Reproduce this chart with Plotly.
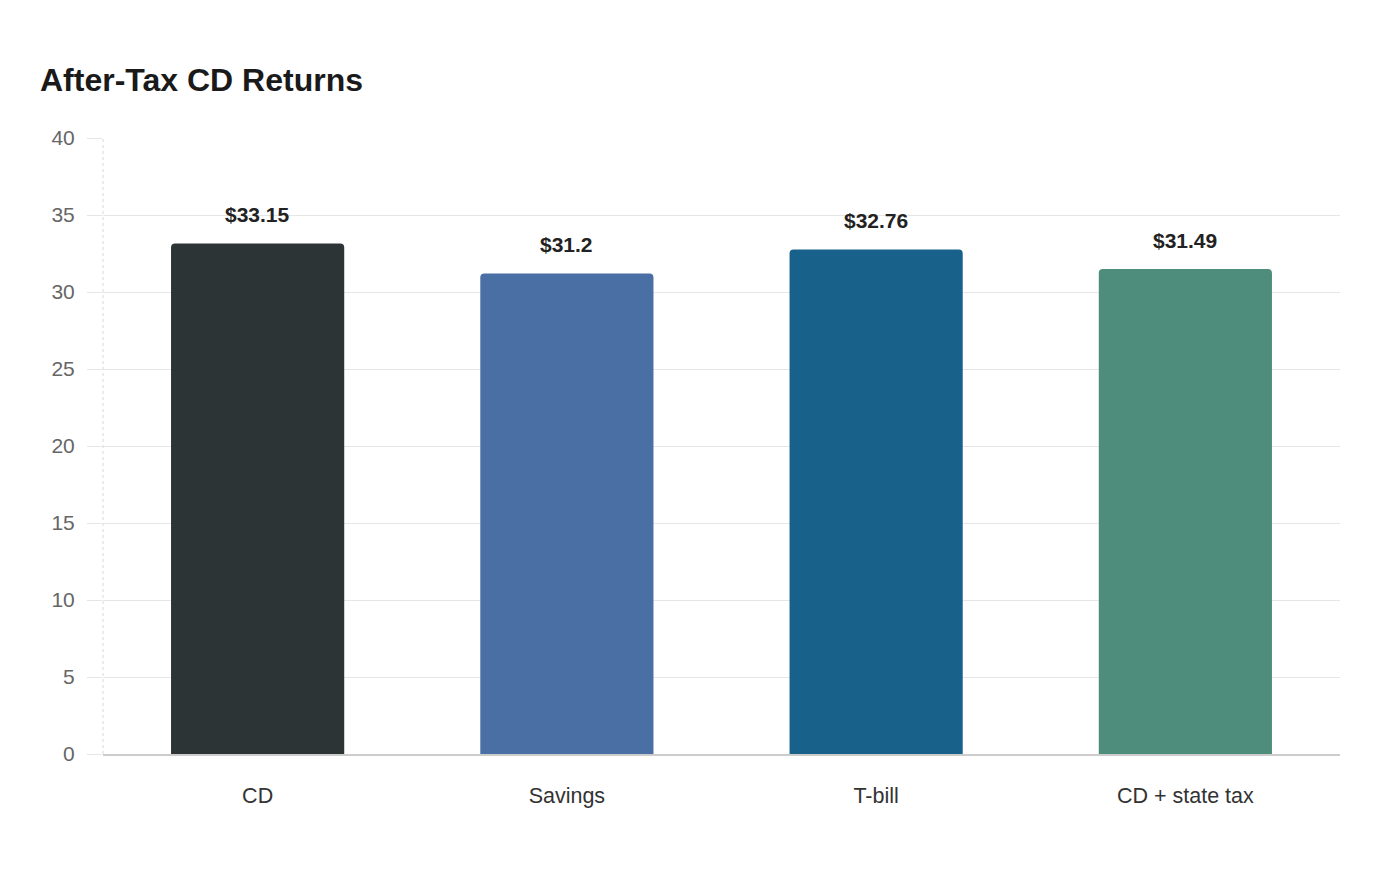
import plotly.graph_objects as go

categories = ["CD", "Savings", "T-bill", "CD + state tax"]
values = [33.15, 31.2, 32.76, 31.49]
labels = ["$33.15", "$31.2", "$32.76", "$31.49"]
colors = ["#2d3436", "#4a6fa5", "#18618a", "#4e8d7c"]
y_ticks = [0, 5, 10, 15, 20, 25, 30, 35, 40]

fig = go.Figure()
fig.add_trace(go.Bar(
    x=categories, y=values, marker=dict(color=colors, line=dict(width=0)),
    width=0.56, hoverinfo="skip",
))

for c, v, t in zip(categories, values, labels):
    fig.add_annotation(x=c, y=v, text="<b>%s</b>" % t, showarrow=False,
                       yshift=29, font=dict(size=21, color="#222222", family="Liberation Sans, Arial, sans-serif"))

fig.add_shape(type="line", xref="paper", yref="paper", x0=0, x1=0, y0=0, y1=1,
              line=dict(color="#d8d8d8", width=1, dash="dot"), layer="above")

fig.update_layout(
    width=1400, height=880,
    margin=dict(l=103, r=60, t=138, b=126),
    paper_bgcolor="white", plot_bgcolor="white",
    barcornerradius=4,
    showlegend=False,
    font=dict(family="Liberation Sans, Arial, sans-serif"),
    title=dict(text="<b>After-Tax CD Returns</b>", x=40/1400, xanchor="left",
               y=1-80/880, yanchor="middle", font=dict(size=32, color="#1a1a1a")),
    xaxis=dict(showgrid=False, showline=True, linecolor="#cccccc", linewidth=1.5,
               ticks="", tickfont=dict(size=21.5, color="#333333"), ticklabelstandoff=21,
               fixedrange=True),
    yaxis=dict(range=[0, 40], tickvals=y_ticks, showgrid=True, gridcolor="#e6e6e6",
               gridwidth=1, zeroline=False, showline=False, ticks="outside", ticklen=15,
               tickcolor="#e6e6e6", tickfont=dict(size=21, color="#666666"),
               ticklabelstandoff=8, fixedrange=True),
)

fig.write_html("out.html")
